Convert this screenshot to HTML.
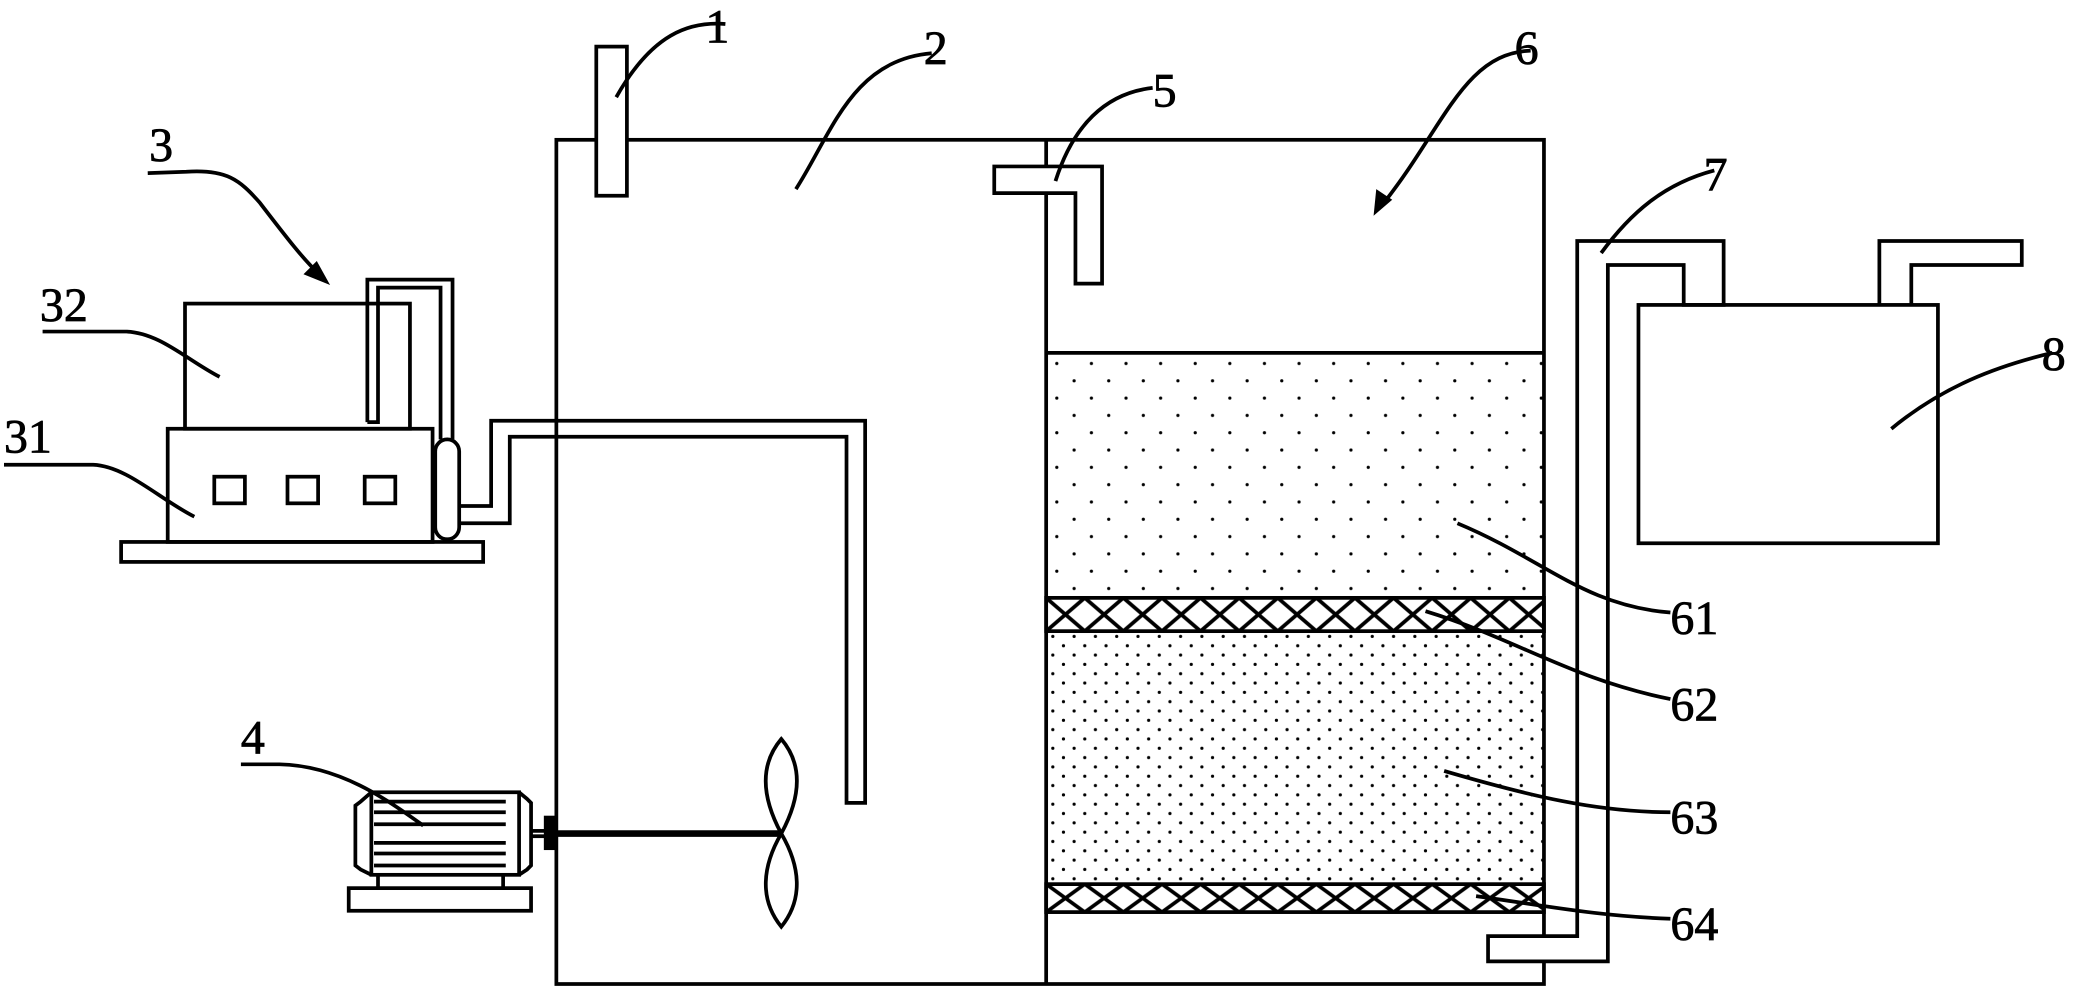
<!DOCTYPE html>
<html><head><meta charset="utf-8"><style>
html,body{margin:0;padding:0;background:#fff;}
svg{display:block;}
text{font-family:"Liberation Serif",serif;font-size:36px;fill:#000;stroke:#000;stroke-width:0.6px;}
</style></head><body>
<svg width="2087" height="992" viewBox="0 0 1568 745" preserveAspectRatio="none" xmlns="http://www.w3.org/2000/svg">
<defs>
<pattern id="d1" x="786" y="265" width="26" height="26" patternUnits="userSpaceOnUse">
<circle cx="8" cy="8" r="1.2" fill="#000"/><circle cx="21" cy="21" r="1.2" fill="#000"/></pattern>
<pattern id="d2" x="786" y="474" width="16" height="14" patternUnits="userSpaceOnUse">
<circle cx="5" cy="4" r="1.2" fill="#000"/><circle cx="13" cy="11" r="1.2" fill="#000"/></pattern>
<pattern id="hx" x="786" y="449" width="29" height="25" patternUnits="userSpaceOnUse">
<path d="M0,0 L29,25 M29,0 L0,25" stroke="#000" stroke-width="2.8"/></pattern>
<pattern id="hx2" x="786" y="664" width="29" height="21" patternUnits="userSpaceOnUse">
<path d="M0,0 L29,21 M29,0 L0,21" stroke="#000" stroke-width="2.8"/></pattern>
</defs>
<g fill="none" stroke="#000" stroke-width="2.8">
<rect x="418" y="105" width="742" height="634"/>
<line x1="786" y1="105" x2="786" y2="739"/>
<rect x="786" y="265" width="374" height="184" fill="url(#d1)" stroke="none"/>
<line x1="786" y1="265" x2="1160" y2="265"/>
<rect x="786" y="449" width="374" height="25" fill="url(#hx)"/>
<rect x="786" y="474" width="374" height="190" fill="url(#d2)" stroke="none"/>
<rect x="786" y="664" width="374" height="21" fill="url(#hx2)"/>
<rect x="448" y="35" width="23" height="112" fill="#fff"/>
<polygon points="747,125 828,125 828,213 808,213 808,145 747,145" fill="#fff"/>
<polygon points="1118,722 1208,722 1208,199 1265,199 1265,229 1295,229 1295,181 1185,181 1185,703 1118,703" fill="#fff"/>
<rect x="1231" y="229" width="225" height="179"/>
<polyline points="1412,229 1412,181 1519,181 1519,199 1436,199 1436,229"/>
<rect x="139" y="228" width="169" height="94"/>
<rect x="126" y="322" width="199" height="85"/>
<rect x="91" y="407" width="272" height="15"/>
<rect x="161" y="358" width="23" height="20"/>
<rect x="216" y="358" width="23" height="20"/>
<rect x="274" y="358" width="23" height="20"/>
<polyline points="276,317 276,210 340,210 340,330"/>
<polyline points="276,317 284,317 284,216 331,216 331,330"/>
<rect x="327" y="330" width="18" height="75" rx="9" fill="#fff"/>
<polyline points="345,380 369,380 369,316 650,316 650,603 636,603 636,328 383,328 383,393 345,393"/>
<rect x="262" y="667" width="137" height="17"/>
<line x1="284" y1="657" x2="284" y2="667"/><line x1="378" y1="657" x2="378" y2="667"/>
<rect x="279" y="595" width="111" height="62"/>
<polyline points="279,595 271,602 267,605 267,650 271,653 279,657"/>
<polyline points="390,595 396,600 399,603 399,650 396,653 390,657"/>
<line x1="281" y1="602" x2="380" y2="602"/><line x1="281" y1="610" x2="380" y2="610"/><line x1="281" y1="619" x2="380" y2="619"/>
<line x1="281" y1="633" x2="380" y2="633"/><line x1="281" y1="641" x2="380" y2="641"/><line x1="281" y1="650" x2="380" y2="650"/>
<line x1="399" y1="624" x2="410" y2="624"/><line x1="399" y1="628" x2="410" y2="628"/>
<rect x="410" y="614" width="6" height="23" fill="#000"/>
<line x1="416" y1="626" x2="587" y2="626" stroke-width="5"/>
<path d="M587,626 C573,600 570,575 587,555 C604,575 601,600 587,626 Z"/>
<path d="M587,626 C573,650 570,675 587,696 C604,675 601,650 587,626 Z"/>
<path d="M463,73 C490,25 518,16 545,18"/>
<path d="M598,142 C625,100 640,45 700,40"/>
<path d="M793,136 C806,95 830,70 866,66"/>
<path d="M1150,38 C1100,40 1085,95 1040,152"/>
<path d="M111,130 L140,129 C170,127 180,135 195,152 C215,178 228,195 240,206"/>
<path d="M32,249 L95,249 C120,250 140,270 165,283"/>
<path d="M3,349 L70,349 C95,350 120,375 146,388"/>
<path d="M181,574 L210,574 C255,575 290,600 318,620"/>
<path d="M1203,190 C1225,160 1250,138 1288,128"/>
<path d="M1421,322 C1460,290 1500,275 1542,265"/>
<path d="M1095,393 C1160,420 1190,455 1255,460"/>
<path d="M1071,459 C1140,480 1180,510 1255,525"/>
<path d="M1085,579 C1150,598 1200,610 1255,610"/>
<path d="M1109,673 C1160,680 1200,688 1255,690"/>
</g>
<polygon points="1032,162 1034,142 1046,150" fill="#000"/>
<polygon points="248,214 228,206 238,196" fill="#000"/>
<text x="530" y="32">1</text>
<text x="694" y="48">2</text>
<text x="866" y="80">5</text>
<text x="1138" y="48">6</text>
<text x="112" y="121">3</text>
<text x="30" y="241">32</text>
<text x="3" y="340">31</text>
<text x="181" y="566">4</text>
<text x="1280" y="143">7</text>
<text x="1534" y="278">8</text>
<text x="1255" y="476">61</text>
<text x="1255" y="541">62</text>
<text x="1255" y="626">63</text>
<text x="1255" y="706">64</text>
</svg>
</body></html>
